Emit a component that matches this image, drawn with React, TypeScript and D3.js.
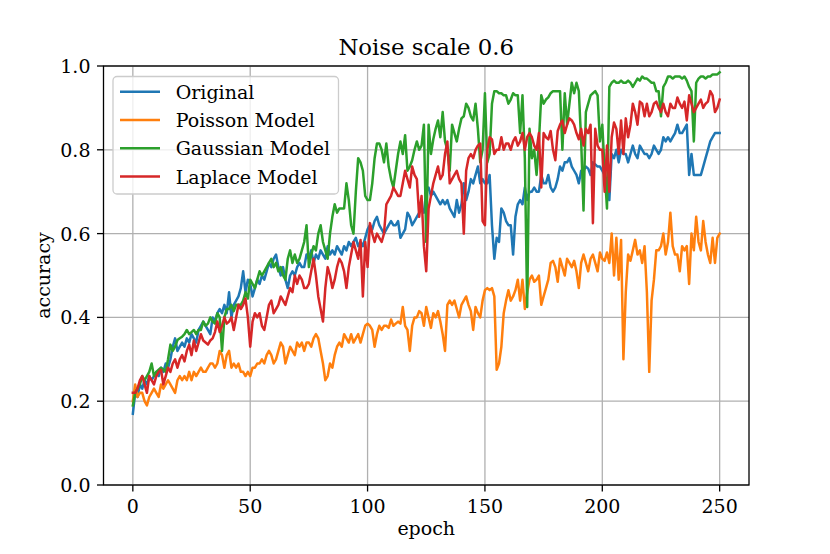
import * as d3 from "d3";

// accuracy per epoch (0..250)
const original = [
  0.17, 0.22, 0.21, 0.24, 0.23, 0.25, 0.24, 0.26, 0.25, 0.26,
  0.27, 0.26, 0.28, 0.27, 0.29, 0.28, 0.30, 0.33, 0.35, 0.32,
  0.33, 0.34, 0.33, 0.35, 0.34, 0.36, 0.35, 0.34, 0.37, 0.38,
  0.39, 0.38, 0.37, 0.36, 0.40, 0.39, 0.41, 0.42, 0.41, 0.43,
  0.41, 0.46, 0.40, 0.43, 0.44, 0.45, 0.47, 0.51, 0.46, 0.49,
  0.48, 0.45, 0.47, 0.49, 0.48, 0.50, 0.49, 0.51, 0.53, 0.52,
  0.54, 0.55, 0.52, 0.50, 0.52, 0.49, 0.47, 0.50, 0.51, 0.50,
  0.52, 0.53, 0.52, 0.52, 0.55, 0.54, 0.56, 0.53, 0.55, 0.54,
  0.56, 0.55, 0.54, 0.57, 0.55, 0.56, 0.55, 0.57, 0.56, 0.55,
  0.57, 0.56, 0.58, 0.57, 0.58, 0.59, 0.57, 0.58, 0.57, 0.59,
  0.61, 0.62, 0.61, 0.63, 0.64, 0.62, 0.61, 0.60, 0.61, 0.62,
  0.63, 0.62, 0.62, 0.63, 0.59, 0.60, 0.61, 0.65, 0.64, 0.62,
  0.63, 0.64, 0.65, 0.66, 0.65, 0.70, 0.71, 0.69, 0.70, 0.69,
  0.68, 0.67, 0.68, 0.67, 0.68, 0.66, 0.65, 0.64, 0.68, 0.65,
  0.67, 0.72, 0.68, 0.70, 0.73, 0.72, 0.74, 0.76, 0.72, 0.73,
  0.72, 0.72, 0.74, 0.62, 0.54, 0.59, 0.58, 0.66, 0.65, 0.63,
  0.62, 0.62, 0.55, 0.64, 0.67, 0.68, 0.67, 0.71, 0.68, 0.70,
  0.70, 0.71, 0.70, 0.70, 0.74, 0.72, 0.72, 0.74, 0.71, 0.70,
  0.71, 0.73, 0.76, 0.75, 0.77, 0.77, 0.78, 0.76, 0.75, 0.74,
  0.72, 0.75, 0.75, 0.76, 0.755, 0.74, 0.77, 0.765, 0.76, 0.76,
  0.75, 0.74, 0.70, 0.68, 0.79, 0.78, 0.80, 0.77, 0.80, 0.79,
  0.79, 0.77, 0.79, 0.81, 0.79, 0.78, 0.81, 0.80, 0.79, 0.79,
  0.78, 0.79, 0.81, 0.80, 0.79, 0.80, 0.83, 0.82, 0.83, 0.82,
  0.83, 0.84, 0.86, 0.84, 0.84, 0.85, 0.86, 0.74, 0.79, 0.74,
  0.74, 0.74, 0.74, 0.76, 0.78, 0.80, 0.82, 0.83, 0.84, 0.84, 0.84,
];

const poisson = [
  0.20, 0.24, 0.21, 0.22, 0.22, 0.20, 0.19, 0.21, 0.22, 0.23,
  0.22, 0.21, 0.24, 0.23, 0.24, 0.25, 0.24, 0.23, 0.22, 0.25,
  0.26, 0.25, 0.26, 0.25, 0.27, 0.25, 0.27, 0.26, 0.27, 0.28,
  0.27, 0.27, 0.28, 0.29, 0.29, 0.28, 0.29, 0.32, 0.31, 0.28,
  0.31, 0.32, 0.28, 0.29, 0.28, 0.29, 0.27, 0.27, 0.26, 0.27,
  0.26, 0.28, 0.28, 0.29, 0.29, 0.30, 0.29, 0.31, 0.32, 0.31,
  0.29, 0.30, 0.32, 0.34, 0.33, 0.29, 0.31, 0.33, 0.32, 0.31,
  0.34, 0.33, 0.34, 0.32, 0.34, 0.34, 0.33, 0.35, 0.36, 0.35,
  0.32, 0.29, 0.25, 0.26, 0.29, 0.28, 0.31, 0.33, 0.34, 0.33,
  0.36, 0.35, 0.34, 0.36, 0.34, 0.35, 0.36, 0.34, 0.36, 0.38,
  0.385, 0.38, 0.37, 0.33, 0.36, 0.38, 0.37, 0.38, 0.38, 0.375,
  0.395, 0.38, 0.385, 0.39, 0.385, 0.425, 0.38, 0.37, 0.32, 0.38,
  0.40, 0.40, 0.415, 0.41, 0.38, 0.425, 0.40, 0.375, 0.41, 0.40,
  0.415, 0.39, 0.36, 0.32, 0.43, 0.44, 0.43, 0.44, 0.42, 0.40,
  0.43, 0.44, 0.45, 0.43, 0.415, 0.37, 0.425, 0.41, 0.40, 0.44,
  0.465, 0.47, 0.465, 0.47, 0.45, 0.275, 0.29, 0.33, 0.41, 0.44,
  0.465, 0.44, 0.45, 0.465, 0.49, 0.44, 0.49, 0.42, 0.46, 0.49,
  0.50, 0.485, 0.49, 0.50, 0.43, 0.45, 0.47, 0.49, 0.53, 0.535,
  0.52, 0.485, 0.54, 0.52, 0.50, 0.54, 0.53, 0.52, 0.535, 0.51,
  0.47, 0.53, 0.55, 0.53, 0.51, 0.54, 0.55, 0.53, 0.51, 0.555,
  0.54, 0.535, 0.555, 0.53, 0.60, 0.50, 0.59, 0.49, 0.585, 0.30,
  0.46, 0.55, 0.535, 0.56, 0.585, 0.55, 0.56, 0.53, 0.57, 0.46,
  0.27, 0.44, 0.49, 0.56, 0.56, 0.57, 0.60, 0.55, 0.58, 0.65,
  0.57, 0.55, 0.55, 0.51, 0.57, 0.56, 0.57, 0.48, 0.60, 0.56,
  0.64, 0.58, 0.56, 0.63, 0.58, 0.55, 0.53, 0.59, 0.53, 0.59, 0.60,
];

const gaussian = [
  0.19, 0.22, 0.23, 0.24, 0.26, 0.25, 0.26, 0.27, 0.29, 0.26,
  0.27, 0.275, 0.28, 0.275, 0.27, 0.30, 0.335, 0.32, 0.33, 0.346,
  0.35, 0.354, 0.36, 0.37, 0.36, 0.365, 0.37, 0.36, 0.37, 0.37,
  0.39, 0.38, 0.385, 0.40, 0.39, 0.385, 0.41, 0.40, 0.32, 0.40,
  0.42, 0.42, 0.43, 0.415, 0.43, 0.43, 0.43, 0.44, 0.46, 0.445,
  0.49, 0.48, 0.47, 0.49, 0.51, 0.50, 0.51, 0.52, 0.53, 0.54,
  0.52, 0.53, 0.51, 0.52, 0.50, 0.49, 0.54, 0.56, 0.53, 0.55,
  0.53, 0.54, 0.56, 0.58, 0.62, 0.52, 0.55, 0.57, 0.56, 0.60,
  0.62, 0.58, 0.56, 0.54, 0.60, 0.64, 0.67, 0.65, 0.66, 0.66,
  0.66, 0.72, 0.68, 0.62, 0.60, 0.70, 0.78, 0.77, 0.75, 0.69,
  0.68, 0.68, 0.72, 0.78, 0.815, 0.815, 0.80, 0.77, 0.815, 0.76,
  0.73, 0.71, 0.75, 0.79, 0.82, 0.79, 0.835, 0.75, 0.76, 0.775,
  0.80, 0.82, 0.80, 0.81, 0.86, 0.58, 0.86, 0.79, 0.825, 0.85,
  0.87, 0.83, 0.89, 0.82, 0.80, 0.75, 0.86, 0.84, 0.82, 0.85,
  0.875, 0.88, 0.91, 0.90, 0.88, 0.87, 0.91, 0.85, 0.77, 0.80,
  0.935, 0.77, 0.79, 0.91, 0.94, 0.94, 0.935, 0.935, 0.93, 0.93,
  0.91, 0.92, 0.935, 0.93, 0.93, 0.84, 0.93, 0.78, 0.425, 0.85,
  0.78, 0.80, 0.74, 0.82, 0.93, 0.91, 0.92, 0.925, 0.935, 0.94,
  0.94, 0.94, 0.94, 0.80, 0.935, 0.86, 0.91, 0.96, 0.935, 0.96,
  0.94, 0.82, 0.655, 0.89, 0.91, 0.93, 0.935, 0.94, 0.93, 0.82,
  0.86, 0.75, 0.66, 0.95, 0.96, 0.965, 0.96, 0.96, 0.965, 0.96,
  0.96, 0.965, 0.96, 0.95, 0.96, 0.97, 0.965, 0.975, 0.97, 0.97,
  0.965, 0.96, 0.96, 0.94, 0.94, 0.88, 0.95, 0.96, 0.975, 0.975,
  0.97, 0.975, 0.975, 0.975, 0.97, 0.975, 0.965, 0.95, 0.94, 0.82,
  0.96, 0.97, 0.975, 0.975, 0.97, 0.975, 0.975, 0.98, 0.98, 0.98, 0.985,
];

const laplace = [
  0.22, 0.22, 0.23, 0.25, 0.26, 0.24, 0.22, 0.26, 0.25, 0.24,
  0.26, 0.27, 0.275, 0.24, 0.26, 0.28, 0.27, 0.29, 0.30, 0.28,
  0.30, 0.31, 0.295, 0.32, 0.335, 0.31, 0.345, 0.32, 0.34, 0.36,
  0.345, 0.34, 0.335, 0.345, 0.35, 0.365, 0.39, 0.365, 0.38, 0.40,
  0.385, 0.39, 0.40, 0.37, 0.40, 0.43, 0.42, 0.43, 0.445, 0.40,
  0.33, 0.39, 0.41, 0.40, 0.41, 0.38, 0.37, 0.40, 0.43, 0.44,
  0.41, 0.42, 0.43, 0.45, 0.44, 0.43, 0.45, 0.47, 0.46, 0.50,
  0.48, 0.50, 0.49, 0.47, 0.47, 0.48, 0.51, 0.54, 0.50, 0.45,
  0.42, 0.39, 0.47, 0.52, 0.50, 0.47, 0.49, 0.52, 0.54, 0.53,
  0.51, 0.47, 0.52, 0.55, 0.58, 0.56, 0.54, 0.585, 0.45, 0.58,
  0.52, 0.625, 0.60, 0.58, 0.60, 0.59, 0.58, 0.60, 0.67, 0.68,
  0.69, 0.71, 0.70, 0.69, 0.69, 0.72, 0.75, 0.73, 0.71, 0.76,
  0.74, 0.73, 0.64, 0.69, 0.57, 0.51, 0.66, 0.69, 0.72, 0.74,
  0.76, 0.73, 0.74, 0.79, 0.82, 0.72, 0.73, 0.74, 0.75, 0.73,
  0.72, 0.60, 0.75, 0.78, 0.79, 0.78, 0.80, 0.81, 0.815, 0.63,
  0.62, 0.80, 0.83, 0.825, 0.79, 0.80, 0.80, 0.83, 0.80, 0.815,
  0.815, 0.80, 0.82, 0.83, 0.81, 0.82, 0.84, 0.80, 0.83, 0.84,
  0.83, 0.81, 0.80, 0.84, 0.71, 0.84, 0.83, 0.825, 0.845, 0.80,
  0.775, 0.845, 0.86, 0.87, 0.84, 0.86, 0.875, 0.87, 0.86, 0.84,
  0.825, 0.85, 0.81, 0.85, 0.84, 0.86, 0.625, 0.85, 0.81, 0.80,
  0.80, 0.70, 0.81, 0.70, 0.83, 0.865, 0.85, 0.79, 0.87, 0.79,
  0.875, 0.83, 0.86, 0.91, 0.89, 0.86, 0.915, 0.91, 0.88, 0.91,
  0.88, 0.89, 0.91, 0.915, 0.90, 0.89, 0.91, 0.89, 0.88, 0.91,
  0.90, 0.90, 0.925, 0.91, 0.90, 0.915, 0.87, 0.93, 0.91, 0.89,
  0.90, 0.91, 0.92, 0.90, 0.91, 0.915, 0.94, 0.93, 0.89, 0.90, 0.92,
];

const seriesNames = ["Original", "Poisson Model", "Gaussian Model", "Laplace Model"];
const seriesColors = ["#1f77b4", "#ff7f0e", "#2ca02c", "#d62728"];
const xTicks = [0, 50, 100, 150, 200, 250];
const yTicks = [0, 0.2, 0.4, 0.6, 0.8, 1.0];

const width = 830;
const height = 554;
const left = 103.5;
const right = 749;
const top = 66;
const bottom = 485;
const font = "'DejaVu Serif', serif";
const tickFont = 19;

export default function App() {
  const all = [original, poisson, gaussian, laplace];
  const x = d3.scaleLinear().domain([-12.5, 262.5]).range([left, right]);
  const y = d3.scaleLinear().domain([0, 1]).range([bottom, top]);
  const line = d3
    .line<number>()
    .x((_, i) => x(i))
    .y((v) => y(v));

  return (
    <svg
      width={width}
      height={height}
      style={{ position: "absolute", left: 0, top: 0, background: "#fff" }}
      fontFamily={font}
    >
      <defs>
        <clipPath id="plotArea">
          <rect x={left} y={top} width={right - left} height={bottom - top} />
        </clipPath>
      </defs>

      {/* grid */}
      {xTicks.map((t) => (
        <line key={"gx" + t} x1={x(t)} x2={x(t)} y1={top} y2={bottom} stroke="#b0b0b0" strokeWidth={1.3} />
      ))}
      {yTicks.map((t) => (
        <line key={"gy" + t} x1={left} x2={right} y1={y(t)} y2={y(t)} stroke="#b0b0b0" strokeWidth={1.3} />
      ))}

      <g clipPath="url(#plotArea)">
        {all.map((s, i) => (
          <path
            key={seriesNames[i]}
            d={line(s) ?? ""}
            fill="none"
            stroke={seriesColors[i]}
            strokeWidth={2.5}
            strokeLinejoin="round"
            strokeLinecap="square"
          />
        ))}
      </g>

      {/* spines */}
      <rect x={left} y={top} width={right - left} height={bottom - top} fill="none" stroke="#000" strokeWidth={1.3} />

      {/* x ticks */}
      {xTicks.map((t) => (
        <g key={"xt" + t}>
          <line x1={x(t)} x2={x(t)} y1={bottom} y2={bottom + 6.5} stroke="#000" strokeWidth={1.3} />
          <text x={x(t)} y={bottom + 27.5} fontSize={tickFont} textAnchor="middle">
            {t}
          </text>
        </g>
      ))}
      {/* y ticks */}
      {yTicks.map((t) => (
        <g key={"yt" + t}>
          <line x1={left - 6.5} x2={left} y1={y(t)} y2={y(t)} stroke="#000" strokeWidth={1.3} />
          <text x={left - 13} y={y(t) + 7} fontSize={tickFont} textAnchor="end">
            {d3.format(".1f")(t)}
          </text>
        </g>
      ))}

      <text x={(left + right) / 2} y={55} fontSize={22.8} textAnchor="middle">
        Noise scale 0.6
      </text>
      <text x={(left + right) / 2} y={535} fontSize={tickFont} textAnchor="middle">
        epoch
      </text>
      <text transform={`translate(50,${(top + bottom) / 2}) rotate(-90)`} fontSize={tickFont} textAnchor="middle">
        accuracy
      </text>

      {/* legend */}
      <rect x={113} y={76.5} width={225.5} height={117.5} rx={4} fill="#fff" fillOpacity={0.8} stroke="#cccccc" strokeWidth={1.3} />
      {seriesNames.map((name, i) => (
        <g key={"lg" + name}>
          <line x1={120} x2={160} y1={91.7 + i * 28.3} y2={91.7 + i * 28.3} stroke={seriesColors[i]} strokeWidth={2.5} />
          <text x={175.7} y={98.7 + i * 28.3} fontSize={tickFont}>
            {name}
          </text>
        </g>
      ))}
    </svg>
  );
}
